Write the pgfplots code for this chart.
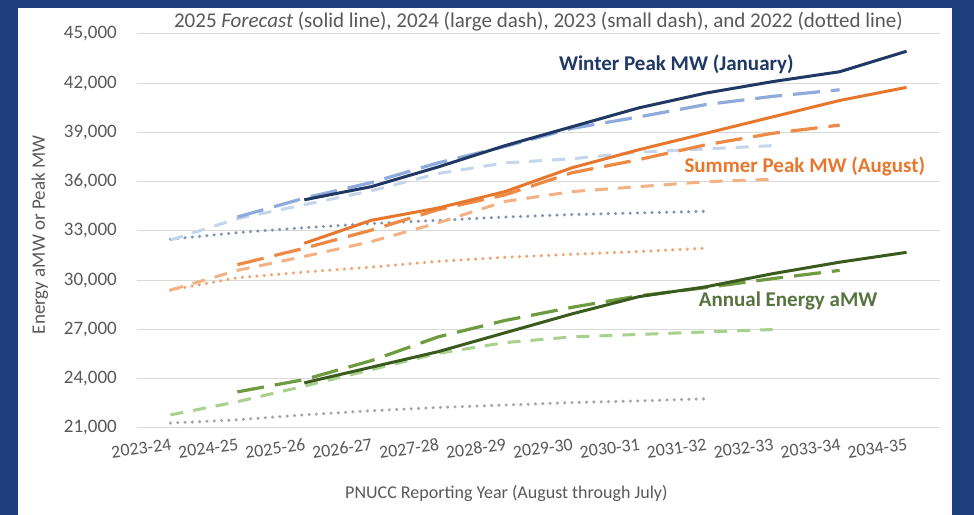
\documentclass[border=0pt]{standalone}
\usepackage{fontspec}
\setmainfont{Carlito}
\usepackage{pgfplots}
\pgfplotsset{compat=1.18}

\definecolor{frameblue}{HTML}{1F3F7C}
\definecolor{gridgray}{HTML}{D9D9D9}
\definecolor{txtgray}{HTML}{595959}
% winter
\definecolor{winA}{HTML}{203864}
\definecolor{winB}{HTML}{8FAADC}
\definecolor{winC}{HTML}{C5D5EC}
\definecolor{winD}{HTML}{7F93B2}
% summer
\definecolor{sumA}{HTML}{E8772E}
\definecolor{sumB}{HTML}{EE8A45}
\definecolor{sumC}{HTML}{F4B183}
\definecolor{sumD}{HTML}{F0A26C}
% annual energy
\definecolor{annA}{HTML}{3A5A1E}
\definecolor{annB}{HTML}{6E9B40}
\definecolor{annC}{HTML}{A9D18E}
\definecolor{annD}{HTML}{A5A5A5}

\pgfplotsset{
  f25/.style={line width=3bp, solid},
  f24/.style={line width=3.2bp, dash pattern=on 27bp off 11bp},
  f23/.style={line width=3bp, dash pattern=on 13bp off 10bp},
  f22/.style={line width=3.4bp, line cap=round, dash pattern=on 0.01bp off 7.3bp},
}

\begin{document}
\begin{tikzpicture}[x=1bp,y=1bp]
\useasboundingbox (-137,-87) rectangle (837,428);
\fill[frameblue] (-137,-87) rectangle (837,428);
\fill[white] (-119,-87) rectangle (815,420);
\begin{axis}[
  at={(0,0)}, anchor=south west,
  scale only axis, width=803bp, height=394bp,
  xmin=-0.5, xmax=11.5, ymin=21000, ymax=45000,
  xtick={0,...,11},
  xticklabels={2023-24,2024-25,2025-26,2026-27,2027-28,2028-29,2029-30,2030-31,2031-32,2032-33,2033-34,2034-35},
  ytick={21000,24000,...,45000},
  scaled y ticks=false,
  /pgf/number format/.cd, 1000 sep={,}, assume math mode=true, /pgfplots/.cd,
  ymajorgrids, grid style={draw=gridgray, line width=1bp},
  axis line style={draw=none}, major tick length=0pt, tick style={draw=none},
  ticklabel style={text=txtgray},
  yticklabel style={font=\fontsize{19bp}{22bp}\selectfont, anchor=east, inner sep=0pt},
  yticklabel shift=20bp,
  xticklabel style={font=\fontsize{18bp}{21bp}\selectfont, rotate=8, anchor=north east, inner sep=0pt},
  xticklabel shift=10bp,
  title={2025 \textit{Forecast} (solid line), 2024 (large dash), 2023 (small dash), and 2022 (dotted line)},
  title style={font=\fontsize{21bp}{24bp}\selectfont, text=txtgray, at={(rel axis cs:0.5,1.015)}, anchor=center, inner sep=0pt},
  xlabel={PNUCC Reporting Year (August through July)},
  xlabel style={font=\fontsize{18bp}{21bp}\selectfont, text=txtgray, at={(rel axis cs:0.46,-0.167)}, anchor=center, inner sep=0pt},
  ylabel={Energy aMW or Peak MW},
  ylabel style={font=\fontsize{19bp}{22bp}\selectfont, text=txtgray, at={(rel axis cs:-0.121,0.49)}, anchor=center, rotate=0, inner sep=0pt},
  clip=false,
]
% 2022 dotted
\addplot[f22, winD] coordinates {(0,32500)(1,32900)(2,33200)(3,33450)(4,33650)(5,33850)(6,34000)(7,34100)(8,34200)};
\addplot[f22, sumD] coordinates {(0,29400)(1,30150)(2,30500)(3,30800)(4,31150)(5,31400)(6,31580)(7,31750)(8,31950)};
\addplot[f22, annD] coordinates {(0,21300)(1,21500)(2,21800)(3,22050)(4,22250)(5,22400)(6,22550)(7,22650)(8,22780)};
% 2023 small dash
\addplot[f23, winC] coordinates {(0,32450)(1,33750)(2,34600)(3,35450)(4,36500)(5,37150)(6,37400)(7,37800)(8,38000)(9,38200)};
\addplot[f23, sumC] coordinates {(0,29400)(1,30600)(2,31450)(3,32350)(4,33500)(5,34800)(6,35400)(7,35700)(8,36000)(9,36150)};
\addplot[f23, annC] coordinates {(0,21800)(1,22600)(2,23550)(3,24550)(4,25550)(5,26200)(6,26550)(7,26700)(8,26850)(9,27000)};
% 2024 large dash
\addplot[f24, winB] coordinates {(1,33850)(2,35000)(3,35950)(4,37150)(5,38150)(6,39250)(7,39950)(8,40700)(9,41200)(10,41600)};
\addplot[f24, sumB] coordinates {(1,30950)(2,31950)(3,33050)(4,34300)(5,35200)(6,36550)(7,37350)(8,38250)(9,38950)(10,39450)};
\addplot[f24, annB] coordinates {(1,23200)(2,23950)(3,25100)(4,26550)(5,27550)(6,28350)(7,29050)(8,29550)(9,30100)(10,30600)};
% 2025 forecast solid
\addplot[f25, winA] coordinates {(2,34900)(3,35700)(4,36900)(5,38200)(6,39350)(7,40500)(8,41400)(9,42100)(10,42700)(11,43950)};
\addplot[f25, sumA] coordinates {(2,32250)(3,33650)(4,34400)(5,35400)(6,36850)(7,37950)(8,38950)(9,39950)(10,40950)(11,41750)};
\addplot[f25, annA] coordinates {(2,23750)(3,24700)(4,25650)(5,26800)(6,27950)(7,29000)(8,29600)(9,30400)(10,31100)(11,31700)};

\node[font=\fontsize{21bp}{24bp}\selectfont\bfseries, text=winA] at (axis cs:7.56,43150) {Winter Peak MW (January)};
\node[font=\fontsize{21bp}{24bp}\selectfont\bfseries, text=sumA] at (axis cs:9.48,36950) {Summer Peak MW (August)};
\node[font=\fontsize{21bp}{24bp}\selectfont\bfseries, text=annA!85!white] at (axis cs:9.23,28750) {Annual Energy aMW};
\end{axis}
\end{tikzpicture}
\end{document}
